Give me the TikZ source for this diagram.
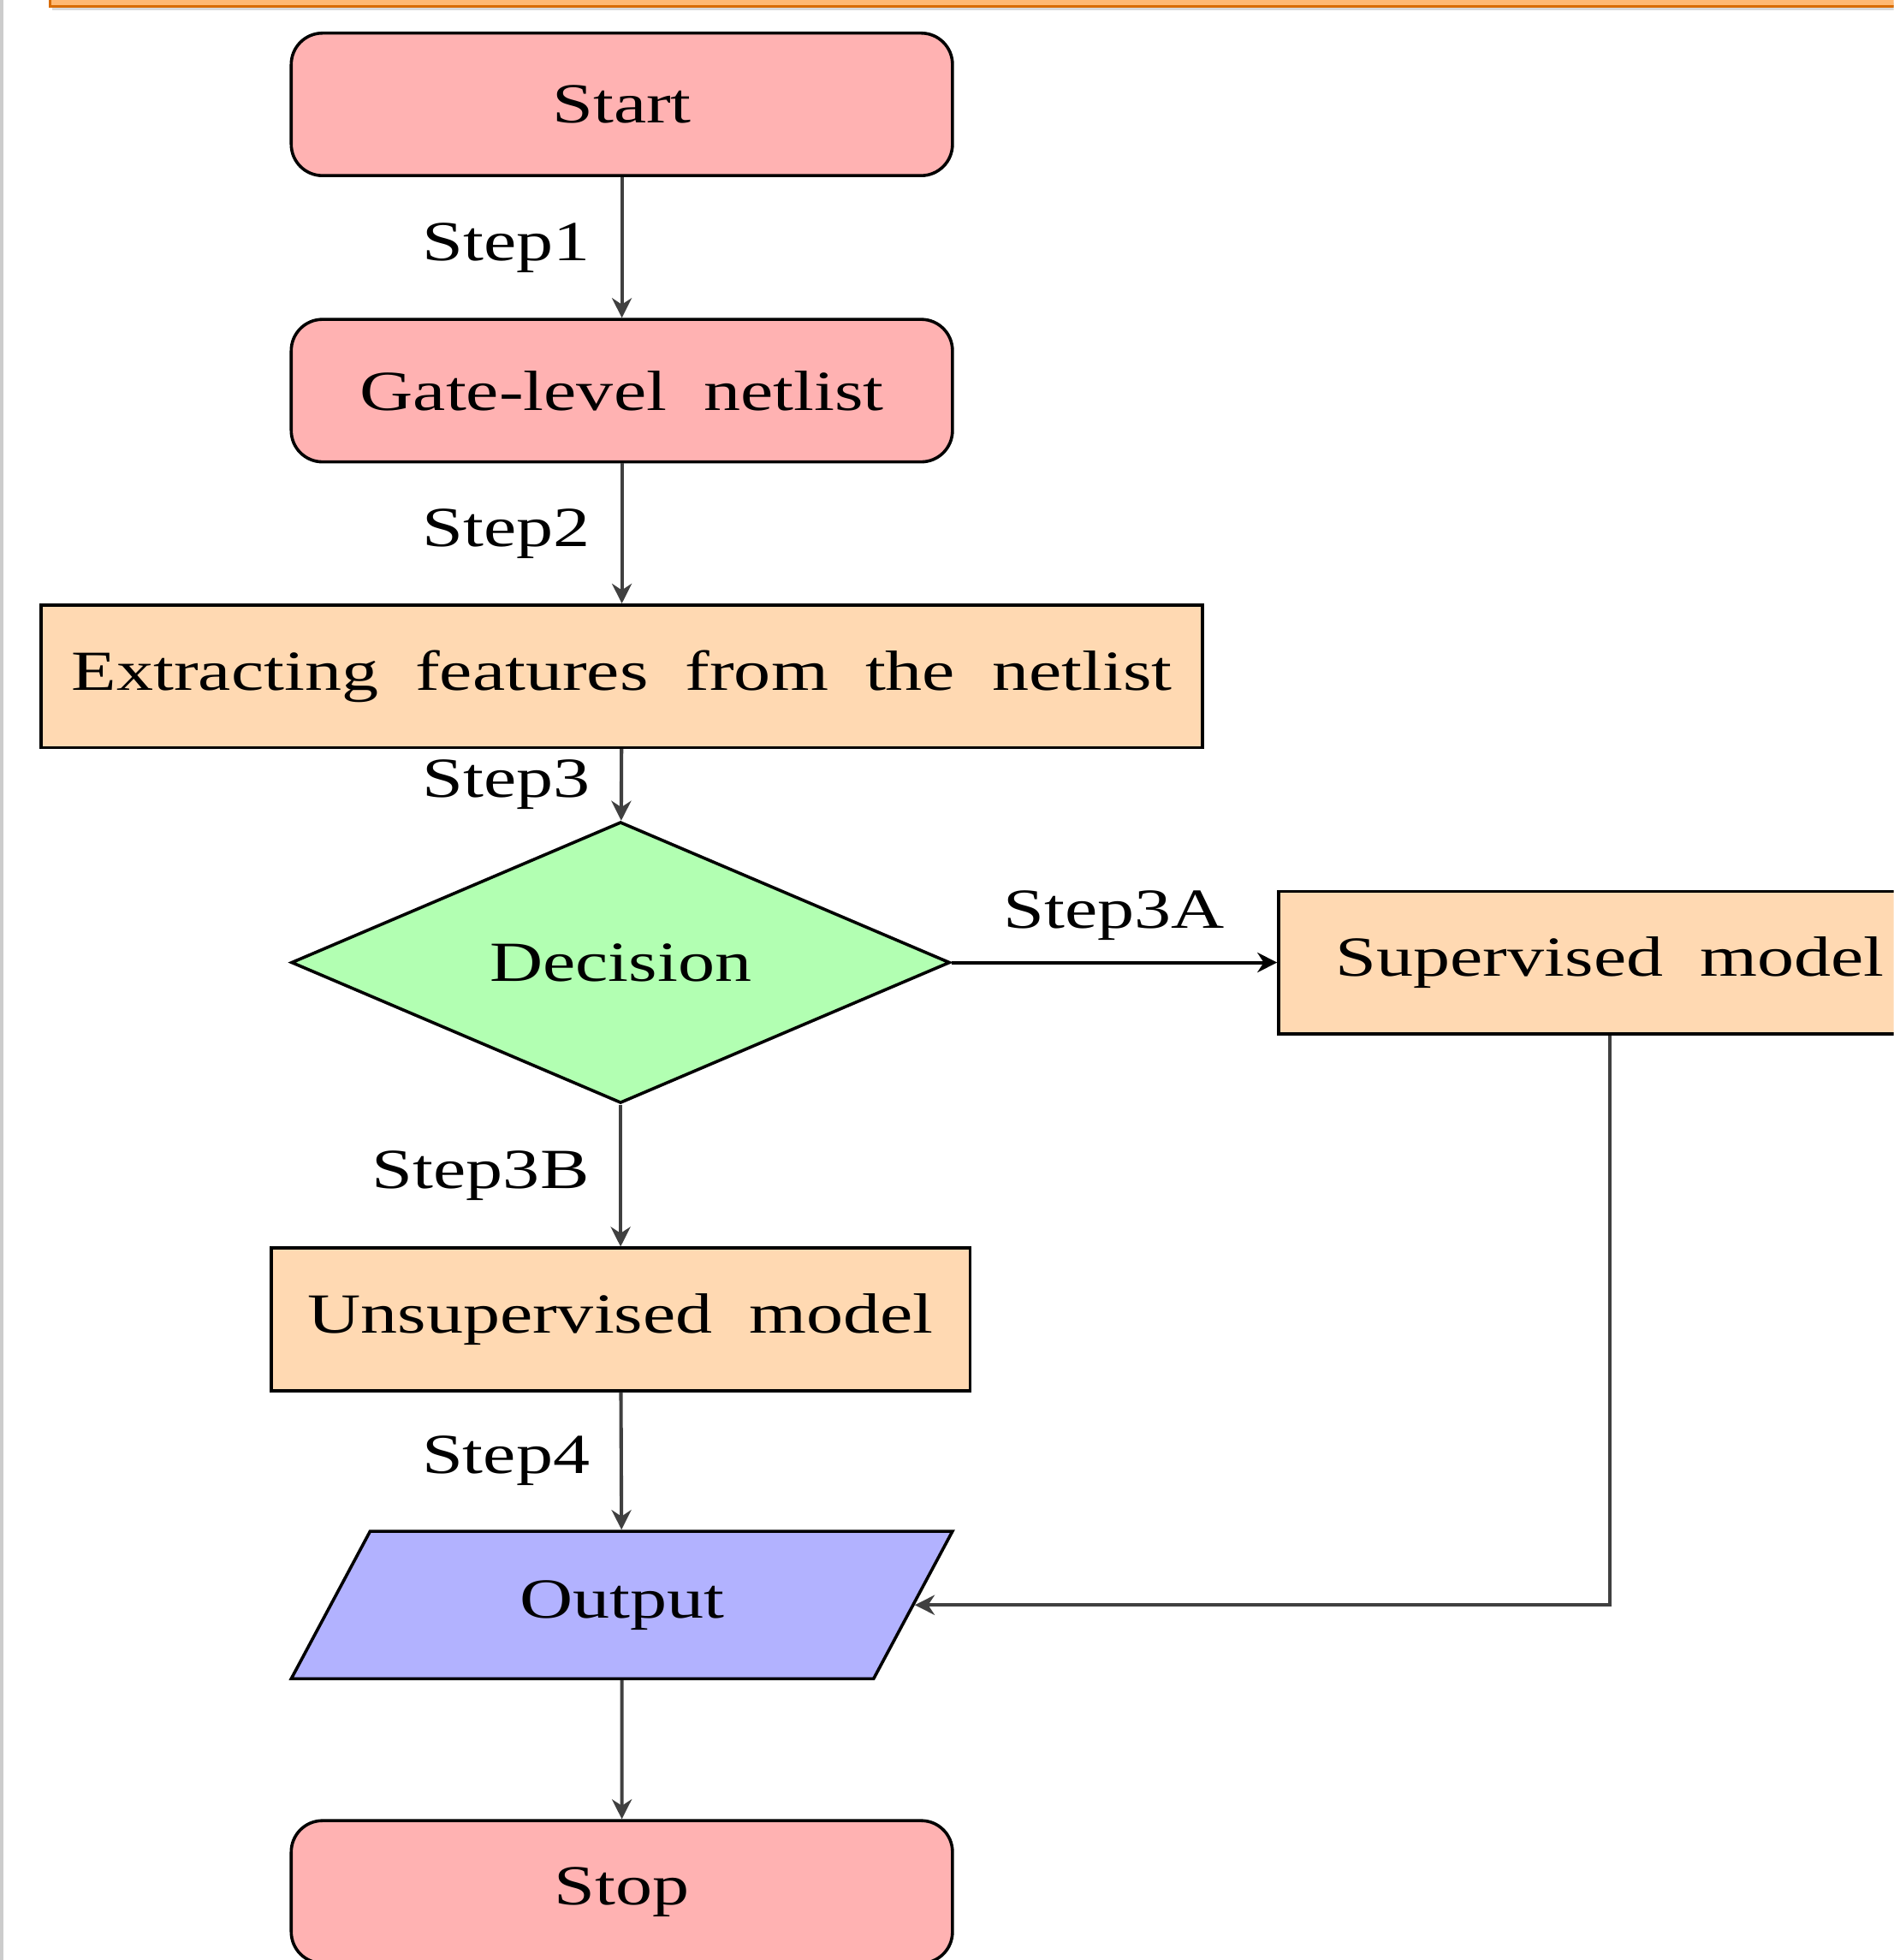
\documentclass[tikz,border=0pt]{standalone}
\usepackage{fontspec}
\setmainfont{Liberation Serif}[FakeStretch=1.3, WordSpace=2]
\usetikzlibrary{shapes.geometric, positioning, arrows.meta, calc}

\begin{document}
\begin{tikzpicture}[
    font=\fontsize{12.9}{15}\selectfont,
    startstop/.style={rectangle, rounded corners=0.25cm, draw, line width=0.7pt, fill=red!30,
                      minimum width=5.29cm, minimum height=1.14cm},
    process/.style={rectangle, draw, line width=0.7pt, fill=orange!30,
                    minimum height=1.14cm, inner xsep=0.2cm},
    decisionbox/.style={diamond, draw, line width=0.7pt, fill=green!30, aspect=2.34,
                        minimum width=5.27cm, minimum height=2.25cm, inner sep=0pt},
    iobox/.style={trapezium, trapezium left angle=45, trapezium right angle=135,
                  trapezium stretches body, draw, line width=0.7pt, fill=blue!30,
                  minimum width=5.29cm, minimum height=1.18cm},
    arrow/.style={line width=0.8pt, draw=black!75, -{Stealth[length=4.5pt, width=4.5pt]}},
    steplabel/.style={left=0.12cm, text=black}
]
    \clip (0,0) rectangle (15.15,-15.68);
    \useasboundingbox (0,0) rectangle (15.15,-15.68);

    % --- frame bits of the screenshot ---
    \fill[gray!40] (0,0) rectangle (0.03,-15.68);
    \fill[black!15] (0.42,-0.02) rectangle (15.2,-0.08);
    \filldraw[fill=orange!55, draw=orange!85!black, line width=0.5pt] (0.40,0.2) rectangle (15.3,-0.05);

    % --- Nodes ---
    \node[startstop] (start) at (4.975, -0.835) {Start};
    \node[startstop] (netlist) at (4.975, -3.125) {Gate-level netlist};
    \node[process, minimum width=9.29cm] (extract) at (4.975, -5.41) {Extracting features from the netlist};
    \node[decisionbox] (dec) at (4.965, -7.70) {Decision};
    \node[process, minimum width=5.30cm] (sup) at (12.88, -7.70) {Supervised model};
    \node[process, minimum width=5.59cm] (unsup) at (4.965, -10.555) {Unsupervised model};
    \node[iobox] (out) at (4.975, -12.84) {Output};
    \node[startstop] (stop) at (4.975, -15.135) {Stop};

    % --- Connectors ---
    \draw[arrow] (start) -- node[steplabel] {Step1} (netlist);
    \draw[arrow] (netlist) -- node[steplabel] {Step2} (extract);
    \draw[arrow] (extract) -- node[steplabel] {Step3} (dec);
    \draw[arrow, draw=black] (dec.east) -- node[above=0.05cm] {Step3A} (sup.west);
    \draw[arrow] (dec.south) -- node[steplabel] {Step3B} (unsup.north);
    \draw[arrow] (unsup) -- node[steplabel] {Step4} (out);
    \draw[arrow] (sup.south) |- (out.east);
    \draw[arrow] (out) -- (stop);
\end{tikzpicture}
\end{document}
